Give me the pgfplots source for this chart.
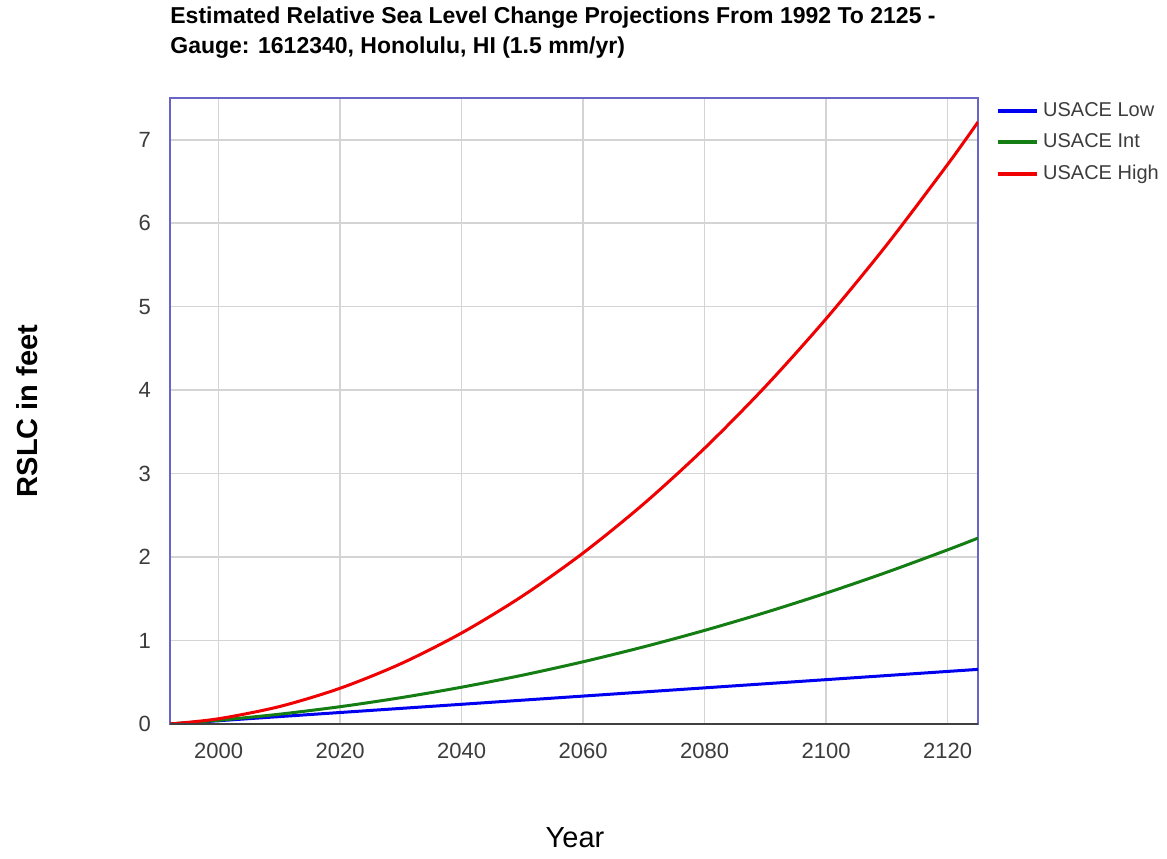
\documentclass[border=0pt]{standalone}
\usepackage{pgfplots}
\pgfplotsset{compat=1.18}
\usepackage{fontspec}
\setmainfont{Liberation Sans}
\definecolor{frame}{RGB}{105,100,200}
\definecolor{lowc}{RGB}{0,0,240}
\definecolor{intc}{RGB}{20,125,20}
\definecolor{highc}{RGB}{240,0,0}
\definecolor{tickc}{RGB}{60,60,60}
\definecolor{gridc}{RGB}{212,212,212}
\begin{document}
\begin{tikzpicture}
\useasboundingbox (0pt,0pt) rectangle (583.5pt,429pt);
\begin{axis}[
  at={(85pt,67pt)}, anchor=south west,
  scale only axis, width=404pt, height=313pt,
  xmin=1992, xmax=2125, ymin=0, ymax=7.5,
  xtick={2000,2020,...,2120}, ytick={0,1,...,7},
  /pgf/number format/assume math mode=true,
  /pgf/number format/1000 sep={},
  grid=major, major grid style={gridc, line width=0.8pt},
  major tick length=0pt,
  axis line style={frame, line width=0.8pt},
  ticklabel style={font=\fontsize{11}{13}\selectfont, text=tickc},
  xticklabel style={yshift=-6pt},
  yticklabel style={xshift=-6pt},
  legend style={at={(axis description cs:1.022,1.0)}, anchor=north west, draw=none, fill=none,
    font=\fontsize{10}{12}\selectfont, text=tickc, row sep=3.2pt, inner sep=0pt,
    /tikz/every even column/.append style={column sep=4pt}},
  legend cell align=left,
  legend image code/.code={\draw[#1, line width=2pt] (0pt,0pt) -- (19.5pt,0pt);},
]
\addplot[lowc, line width=1.5pt, smooth] coordinates {
(1992,0) (2000,0.0394) (2010,0.0886) (2020,0.1378) (2030,0.1870) (2040,0.2362) (2050,0.2854)
(2060,0.3346) (2070,0.3839) (2080,0.4331) (2090,0.4823) (2100,0.5315) (2110,0.5807) (2120,0.6299) (2125,0.6545)};
\addlegendentry{USACE Low}
\addplot[intc, line width=1.5pt, smooth] coordinates {
(1992,0) (2000,0.0451) (2010,0.1174) (2020,0.2075) (2030,0.3154) (2040,0.4410) (2050,0.5845)
(2060,0.7457) (2070,0.9248) (2080,1.1216) (2090,1.3362) (2100,1.5685) (2110,1.8187) (2120,2.0866) (2125,2.2272)};
\addlegendentry{USACE Int}
\addplot[highc, line width=1.5pt, smooth] coordinates {
(1992,0) (2000,0.0631) (2010,0.2087) (2020,0.4285) (2030,0.7223) (2040,1.0904) (2050,1.5325)
(2060,2.0489) (2070,2.6394) (2080,3.3040) (2090,4.0428) (2100,4.8557) (2110,5.7427) (2120,6.7039) (2125,7.2123)};
\addlegendentry{USACE High}
\draw[black!75, line width=0.8pt] (rel axis cs:0,0) -- (rel axis cs:1,0);
\end{axis}
\node[anchor=west, inner sep=0pt, font=\fontsize{11.5}{13}\selectfont\bfseries] at (85pt,420pt) {Estimated Relative Sea Level Change Projections From 1992 To 2125 -};
\node[anchor=west, inner sep=0pt, font=\fontsize{11.5}{13}\selectfont\bfseries] at (85pt,405pt) {Gauge: 1612340, Honolulu, HI (1.5 mm/yr)};
\node[rotate=90, inner sep=0pt, font=\fontsize{14.5}{16}\selectfont\bfseries] at (13.5pt,223.5pt) {RSLC in feet};
\node[inner sep=0pt, font=\fontsize{14.5}{16}\selectfont] at (287.5pt,10pt) {Year};
\end{tikzpicture}
\end{document}
